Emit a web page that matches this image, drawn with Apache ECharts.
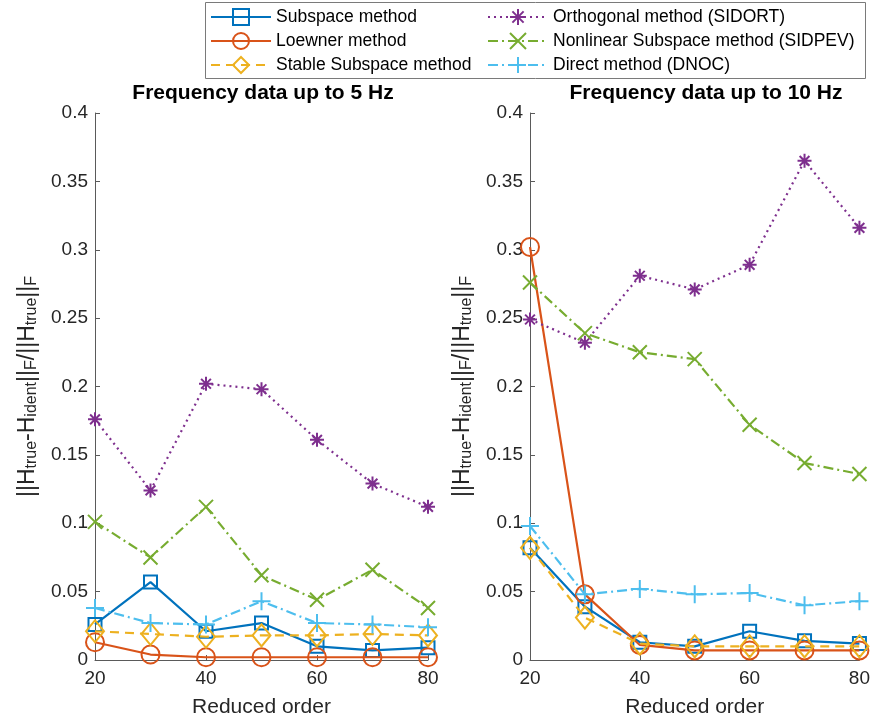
<!DOCTYPE html>
<html>
<head>
<meta charset="utf-8">
<script src="https://cdn.jsdelivr.net/npm/echarts@6/dist/echarts.min.js"></script>
<style>
  html, body { margin: 0; padding: 0; background: #fff; }
  #chart { width: 873px; height: 723px; }
</style>
</head>
<body>
<div id="chart"></div>
<script>
const orders = [20, 30, 40, 50, 60, 70, 80];
const methodNames = [
  'Subspace method', 'Loewner method', 'Stable Subspace method',
  'Orthogonal method (SIDORT)', 'Nonlinear Subspace method (SIDPEV)', 'Direct method (DNOC)'
];
const panelTitles = ['Frequency data up to 5 Hz', 'Frequency data up to 10 Hz'];
const yTicks = [0, 0.05, 0.1, 0.15, 0.2, 0.25, 0.3, 0.35, 0.4];

// frequency data up to 5 Hz
const sub5 = [0.026, 0.057, 0.021, 0.027, 0.010, 0.007, 0.009];
const loew5 = [0.013, 0.004, 0.002, 0.002, 0.002, 0.002, 0.002];
const stab5 = [0.021, 0.019, 0.017, 0.018, 0.018, 0.019, 0.018];
const orth5 = [0.176, 0.124, 0.202, 0.198, 0.161, 0.129, 0.112];
const nonl5 = [0.101, 0.075, 0.112, 0.062, 0.044, 0.066, 0.038];
const dir5 = [0.038, 0.027, 0.026, 0.043, 0.027, 0.026, 0.024];

// frequency data up to 10 Hz
const sub10 = [0.082, 0.039, 0.013, 0.010, 0.021, 0.014, 0.012];
const loew10 = [0.302, 0.048, 0.011, 0.007, 0.007, 0.007, 0.007];
const stab10 = [0.082, 0.031, 0.012, 0.010, 0.010, 0.010, 0.010];
const orth10 = [0.249, 0.232, 0.281, 0.271, 0.289, 0.365, 0.316];
const nonl10 = [0.276, 0.239, 0.225, 0.220, 0.172, 0.144, 0.136];
const dir10 = [0.098, 0.048, 0.052, 0.048, 0.049, 0.040, 0.043];

const colors = ['#0072BD', '#D95319', '#EDB120', '#7E2F8E', '#77AC30', '#4DBEEE'];
const symbols = [
  'rect', 'circle', 'diamond',
  'path://M0,-10L0,10M-10,0L10,0M-7,-7L7,7M-7,7L7,-7',
  'path://M-10,-10L10,10M-10,10L10,-10',
  'path://M0,-10L0,10M-10,0L10,0'
];
const symbolSizes = [13, 18, [18, 22], 14, 14, 18];
const dashes = ['solid', 'solid', [9, 6], [2, 4], [10, 4, 2, 4], [10, 4, 2, 4]];
const panelData = [
  [sub5, loew5, stab5, orth5, nonl5, dir5],
  [sub10, loew10, stab10, orth10, nonl10, dir10]
];

const chart = echarts.init(document.getElementById('chart'));

const axisColor = '#5a5a5a';
const textColor = '#262626';
const font = 'Liberation Sans, Arial, sans-serif';

const yName = '{n|||H}{s|true}{n|-H}{s|ident}{n|||}{s|F}{n|/||H}{s|true}{n|||}{s|F}';
const yNameRich = {
  n: { fontSize: 23, fontFamily: font, color: textColor, lineHeight: 24, verticalAlign: 'top' },
  s: { fontSize: 16, fontFamily: font, color: textColor, lineHeight: 16, padding: [12, 0, 0, 0], verticalAlign: 'bottom' }
};

function makeXAxis(idx) {
  return {
    type: 'value', gridIndex: idx, min: 20, max: 80, interval: 20,
    name: 'Reduced order', nameLocation: 'middle', nameGap: 37,
    nameTextStyle: { fontSize: 21, color: textColor, fontFamily: font },
    axisLine: { lineStyle: { color: axisColor, width: 1 } },
    axisTick: { inside: true, length: 5, lineStyle: { color: axisColor } },
    axisLabel: { fontSize: 19, color: textColor, fontFamily: font, margin: 9 },
    splitLine: { show: false }
  };
}

function makeYAxis(idx) {
  return {
    type: 'value', gridIndex: idx, min: yTicks[0], max: yTicks[yTicks.length - 1], interval: 0.05,
    name: yName, nameLocation: 'middle', nameRotate: 90, nameGap: 55,
    nameTextStyle: { rich: yNameRich },
    axisLine: { show: true, lineStyle: { color: axisColor, width: 1 } },
    axisTick: { show: true, inside: true, length: 5, lineStyle: { color: axisColor } },
    axisLabel: { fontSize: 19, color: textColor, fontFamily: font, margin: 7 },
    splitLine: { show: false }
  };
}

const series = [];
panelData.forEach((vals, p) => {
  vals.forEach((arr, m) => {
    series.push({
      name: methodNames[m],
      type: 'line',
      xAxisIndex: p, yAxisIndex: p,
      data: orders.map((o, i) => [o, arr[i]]),
      symbol: symbols[m],
      symbolSize: symbolSizes[m],
      symbolKeepAspect: true,
      showAllSymbol: true,
      clip: false,
      lineStyle: { color: colors[m], width: 2.2, type: dashes[m] },
      itemStyle: { color: 'rgba(0,0,0,0)', borderColor: colors[m], borderWidth: 2 },
      emphasis: { disabled: true },
      z: 2 + m
    });
  });
});

const legendBase = {
  orient: 'vertical', itemWidth: 60, itemHeight: 20, itemGap: 6,
  textStyle: { fontSize: 17.5, lineHeight: 18, color: '#000', fontFamily: font },
  selectedMode: false
};

chart.setOption({
  animation: false,
  title: panelTitles.map((t, i) => ({
    text: t,
    left: i === 0 ? 258 : 701, top: 78, textAlign: 'center',
    textStyle: { fontSize: 21, fontWeight: 'bold', color: '#000', fontFamily: font }
  })),
  legend: [
    Object.assign({ left: 205, top: 3, data: methodNames.slice(0, 3) }, legendBase),
    Object.assign({ left: 482, top: 3, data: methodNames.slice(3) }, legendBase)
  ],
  graphic: [{
    type: 'rect', left: 205, top: 2,
    shape: { width: 660, height: 76 },
    style: { fill: '#fff', stroke: '#7a7a7a', lineWidth: 1 },
    z: -1
  }],
  grid: [
    { left: 95, right: 445, top: 113, bottom: 63 },
    { left: 530, right: 8, top: 113, bottom: 63 }
  ],
  xAxis: [makeXAxis(0), makeXAxis(1)],
  yAxis: [makeYAxis(0), makeYAxis(1)],
  series: series
});
</script>
</body>
</html>
